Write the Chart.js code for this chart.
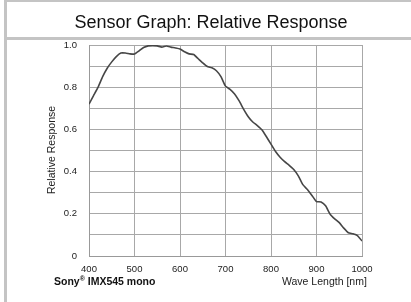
<!DOCTYPE html>
<html>
<head>
<meta charset="utf-8">
<script src="https://cdn.jsdelivr.net/npm/chart.js@4"></script>
<style>
  html, body { margin: 0; padding: 0; background: #fff; }
  #wrap { position: relative; width: 411px; height: 302px; }
</style>
</head>
<body>
<div id="wrap"><canvas id="sensorChart" width="411" height="302"></canvas></div>
<script>
const wavelengths = [400, 410, 420, 430, 440, 450, 460, 470, 480, 490,
  500, 510, 520, 530, 540, 550, 560, 570, 580, 590,
  600, 610, 620, 630, 640, 650, 660, 670, 680, 690,
  700, 710, 720, 730, 740, 750, 760, 770, 780, 790,
  800, 810, 820, 830, 840, 850, 860, 870, 880, 890,
  900, 910, 920, 930, 940, 950, 960, 970, 980, 990, 1000];
const response = [0.72, 0.76, 0.80, 0.85, 0.89, 0.92, 0.945, 0.962, 0.962, 0.958,
  0.957, 0.972, 0.988, 0.996, 0.997, 0.996, 0.99, 0.995, 0.99, 0.986,
  0.981, 0.968, 0.958, 0.955, 0.935, 0.915, 0.898, 0.892, 0.878, 0.85,
  0.805, 0.79, 0.768, 0.735, 0.695, 0.66, 0.635, 0.618, 0.598, 0.565,
  0.53, 0.495, 0.468, 0.447, 0.43, 0.41, 0.38, 0.338, 0.315, 0.287,
  0.258, 0.256, 0.238, 0.198, 0.176, 0.158, 0.132, 0.11, 0.105, 0.097, 0.071];
const xTicks = [400, 500, 600, 700, 800, 900, 1000];
const yTickLabels = ['0', '0.2', '0.4', '0.6', '0.8', '1.0'];

const FONT = 'Liberation Sans, Arial, sans-serif';

// frame, title and footer texts
const decor = {
  id: 'decor',
  beforeDraw(chart) {
    const ctx = chart.ctx;
    ctx.save();
    ctx.fillStyle = '#c4c4c4';
    ctx.fillRect(4, 0, 407, 2);
    ctx.fillRect(4, 0, 3, 302);
    ctx.fillRect(4, 37, 407, 3);
    ctx.fillStyle = '#111';
    ctx.font = '18px ' + FONT;
    ctx.textAlign = 'center';
    ctx.textBaseline = 'alphabetic';
    ctx.fillText('Sensor Graph: Relative Response', 211, 28);

    // y title
    ctx.save();
    ctx.translate(55, 150);
    ctx.rotate(-Math.PI / 2);
    ctx.font = '10.5px ' + FONT;
    ctx.textBaseline = 'alphabetic';
    ctx.fillStyle = '#222';
    ctx.fillText('Relative Response', 0, 0);
    ctx.restore();

    // footer
    ctx.textAlign = 'left';
    ctx.fillStyle = '#111';
    let x = 54;
    ctx.font = 'bold 10.5px ' + FONT;
    ctx.fillText('Sony', x, 285);
    x += ctx.measureText('Sony').width;
    ctx.font = 'bold 7px ' + FONT;
    ctx.fillText('®', x, 281);
    x += ctx.measureText('®').width;
    ctx.font = 'bold 10.5px ' + FONT;
    ctx.fillText(' IMX545 mono', x, 285);
    ctx.font = '10.5px ' + FONT;
    ctx.fillStyle = '#222';
    ctx.fillText('Wave Length [nm]', 282, 285);
    ctx.restore();
  }
};

new Chart(document.getElementById('sensorChart'), {
  type: 'line',
  data: {
    datasets: [{
      data: wavelengths.map((w, i) => ({ x: w, y: response[i] })),
      borderColor: '#464646',
      borderWidth: 1.6,
      pointRadius: 0,
      tension: 0.15,
      fill: false
    }]
  },
  options: {
    responsive: false,
    animation: false,
    layout: { padding: { top: 45, right: 49, left: 0, bottom: 0 } },
    plugins: { legend: { display: false }, tooltip: { enabled: false } },
    scales: {
      x: {
        type: 'linear',
        min: 400,
        max: 1000,
        afterFit(scale) { scale.height = 46; },
        afterBuildTicks(scale) { scale.ticks = xTicks.map(v => ({ value: v })); },
        ticks: {
          color: '#222',
          font: { family: FONT, size: 9.5 },
          padding: 8,
          maxRotation: 0,
          callback(v) { return String(v); }
        },
        grid: { color: '#a8a8a8', drawTicks: false },
        border: { color: '#999' }
      },
      y: {
        min: 0,
        max: 1,
        afterFit(scale) { scale.width = 89; },
        ticks: {
          stepSize: 0.1,
          color: '#222',
          font: { family: FONT, size: 9.5 },
          padding: 12,
          callback(v) {
            const i = Math.round(v * 10);
            return i % 2 === 0 ? yTickLabels[i / 2] : '';
          }
        },
        grid: { color: '#a8a8a8', drawTicks: false },
        border: { color: '#999' }
      }
    }
  },
  plugins: [decor]
});
</script>
</body>
</html>
